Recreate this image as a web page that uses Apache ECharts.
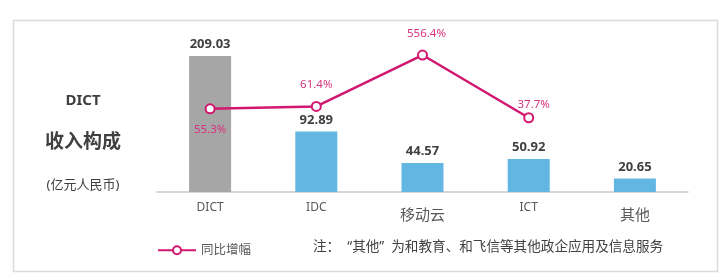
<!DOCTYPE html>
<html>
<head>
<meta charset="utf-8">
<script src="https://cdn.jsdelivr.net/npm/echarts@6/dist/echarts.min.js"></script>
<style>html,body{margin:0;padding:0;background:#fff;}#c{width:724px;height:279px;}</style>
</head>
<body>
<div id="c"></div>
<script>
const categories = ['DICT', 'IDC', '移动云', 'ICT', '其他'];
const revenue = [209.03, 92.89, 44.57, 50.92, 20.65];
const growth = [55.3, 61.4, 556.4, 37.7, null];
const growthName = '同比增幅';
const note = '注：  “其他”  为和教育、和飞信等其他政企应用及信息服务';

const FONT = '"Noto Sans", "Noto Sans CJK SC", sans-serif';
const chart = echarts.init(document.getElementById('c'), null, {renderer: 'canvas'});

const barColors = ['#a6a6a6', '#62b7e2', '#62b7e2', '#62b7e2', '#62b7e2'];
const lineColor = '#d1176f';

chart.setOption({
  backgroundColor: '#fff',
  animation: false,
  grid: {left: 157, right: 36, top: 20, bottom: 87},
  legend: {
    data: [growthName],
    left: 152, top: 239,
    itemWidth: 38, itemHeight: 10,
    textStyle: {color: '#595959', fontSize: 12.5, fontFamily: FONT}
  },
  xAxis: {
    type: 'category',
    data: categories,
    axisLine: {lineStyle: {color: '#c8c8c8', width: 1.5}},
    axisTick: {show: false},
    axisLabel: {
      margin: 10,
      formatter: function (v) {
        return /[\u4e00-\u9fff]/.test(v) ? '{cn|' + v + '}' : '{en|' + v + '}';
      },
      rich: {
        en: {color: '#595959', fontSize: 12, fontFamily: FONT},
        cn: {color: '#595959', fontSize: 15, fontFamily: FONT, padding: [6, 0, 0, 0]}
      }
    }
  },
  yAxis: [
    {type: 'value', min: 0, max: 264.4, show: false},
    {type: 'log', min: 1.56, max: 2500, show: false, logBase: 10}
  ],
  series: [
    {
      type: 'bar',
      data: revenue.map((v, i) => ({value: v, itemStyle: {color: barColors[i]}})),
      barWidth: 42,
      label: {
        show: true, position: 'top', distance: 5,
        color: '#404040', fontSize: 13, fontWeight: 'bold', fontFamily: FONT,
        formatter: p => p.value.toFixed(2)
      },
      z: 1
    },
    {
      name: growthName,
      type: 'line',
      yAxisIndex: 1,
      data: growth.map((v, i) => {
        if (v == null) return null;
        const d = {value: v};
        if (i === 0) d.label = {position: 'bottom', distance: 10};
        if (i === 2) d.label = {offset: [4, 0]};
        if (i === 3) d.label = {offset: [5, 8]};
        return d;
      }),
      connectNulls: false,
      symbol: 'circle',
      symbolSize: 9,
      showAllSymbol: true,
      lineStyle: {color: lineColor, width: 2.5},
      itemStyle: {color: '#fff', borderColor: lineColor, borderWidth: 2},
      label: {
        show: true, position: 'top', distance: 10,
        color: '#d6337e', fontSize: 11.5, fontFamily: FONT,
        formatter: p => p.value + '%'
      },
      z: 3
    }
  ],
  graphic: [
    {type: 'rect', shape: {x: 13.5, y: 20.5, width: 704, height: 251}, style: {fill: 'none', stroke: '#dcdcdc', lineWidth: 1.5}, silent: true, z: -1},
    {type: 'text', x: 83, y: 101, style: {text: 'DICT', fill: '#404040', font: 'bold 15px ' + FONT, align: 'center', verticalAlign: 'middle'}},
    {type: 'text', x: 83, y: 143, style: {text: '收入构成', fill: '#404040', font: 'bold 19px ' + FONT, align: 'center', verticalAlign: 'middle'}},
    {type: 'text', x: 83, y: 185, style: {text: '(亿元人民币)', fill: '#404040', font: '13px ' + FONT, align: 'center', verticalAlign: 'middle'}},
    {type: 'text', x: 313, y: 247, style: {text: note, fill: '#404040', font: '13.6px ' + FONT, align: 'left', verticalAlign: 'middle'}}
  ]
});
</script>
</body>
</html>
